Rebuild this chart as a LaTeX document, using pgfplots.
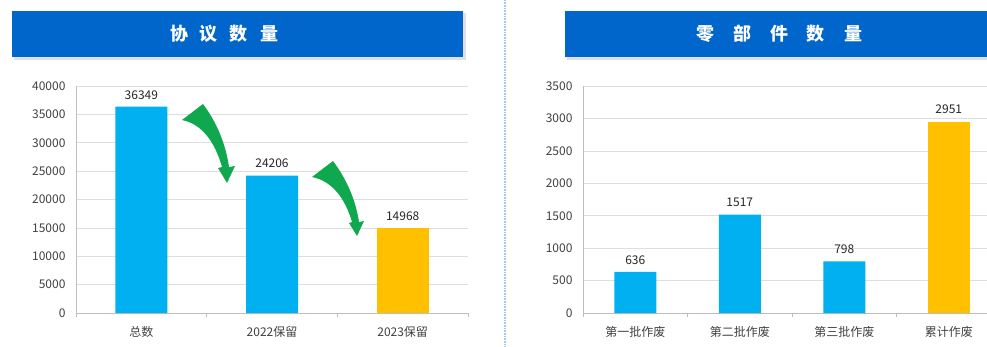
\documentclass[border=0pt]{standalone}
\usepackage{pgfplots}
\pgfplotsset{compat=1.18}
\usepackage{fontspec}
\setmainfont{Noto Sans CJK SC}
\definecolor{barblue}{RGB}{0,176,240}
\definecolor{barorange}{RGB}{255,192,0}
\definecolor{banner}{RGB}{0,102,204}
\definecolor{arrowgreen}{RGB}{16,168,78}
\definecolor{gridc}{RGB}{222,222,222}
\definecolor{axisc}{RGB}{190,190,190}
\definecolor{textc}{RGB}{64,64,64}
\definecolor{sepc}{RGB}{165,200,230}
\pgfplotsset{
  mybars/.style={
    scale only axis,
    anchor=south west,
    height=227pt,
    ybar,
    ymin=0,
    axis x line*=bottom,
    axis y line*=left,
    axis line style={axisc, line width=0.8pt},
    ymajorgrids,
    grid style={gridc, line width=0.6pt},
    major tick length=0pt,
    minor tick length=4pt,
    tick align=outside,
    minor tick style={axisc, line width=0.8pt},
    scaled y ticks=false,
    /pgf/number format/.cd, 1000 sep={}, assume math mode=true, /pgfplots/.cd,
    yticklabel style={font=\fontsize{12}{14}\selectfont, text=textc, xshift=-7pt},
    xticklabel style={font=\fontsize{12}{14}\selectfont, text=textc, yshift=-10pt},
    nodes near coords,
    every node near coord/.append style={font=\fontsize{12}{14}\selectfont, text=black!85, yshift=4pt},
    clip=false,
  }
}
\begin{document}
\begin{tikzpicture}
\useasboundingbox (0pt,0pt) rectangle (987pt,-346pt);
\clip (0pt,0pt) rectangle (987pt,-346pt);
% banners
\begin{scope}[x=1pt,y=-1pt]
\fill[black,opacity=0.12] (14,13) rectangle (466,60);
\fill[banner] (12,11) rectangle (463,57);
\node[text=white, font=\bfseries\fontsize{18}{20}\selectfont] at (224,34) {协\hspace{12pt}议\hspace{12pt}数\hspace{12pt}量};
\fill[black,opacity=0.12] (567,13) rectangle (1000,60);
\fill[banner] (565,11) rectangle (998,57);
\node[text=white, font=\bfseries\fontsize{18}{20}\selectfont] at (779,34) {零\hspace{19pt}部\hspace{19pt}件\hspace{19pt}数\hspace{19pt}量};
\draw[sepc, line width=1.6pt, dash pattern=on 0.8pt off 0.8pt] (505,0) -- (505,346);
\end{scope}

% left chart
\begin{axis}[mybars,
  at={(76pt,-313pt)},
  width=392pt,
  bar width=52pt,
  xmin=-0.5, xmax=2.5,
  ymax=40000,
  ytick={0,5000,...,40000},
  xtick={0,1,2},
  xticklabels={总数,2022保留,2023保留},
  minor xtick={-0.5,0.5,1.5,2.5},
]
\addplot[fill=barblue, draw=none, bar shift=0pt] coordinates {(0,36349) (1,24206)};
\addplot[fill=barorange, draw=none, bar shift=0pt] coordinates {(2,14968)};
\end{axis}

% right chart
\begin{axis}[mybars,
  at={(583pt,-313pt)},
  width=418pt,
  bar width=42pt,
  xmin=-0.5, xmax=3.5,
  ymax=3500,
  ytick={0,500,...,3500},
  xtick={0,1,2,3},
  xticklabels={第一批作废,第二批作废,第三批作废,累计作废},
  minor xtick={-0.5,0.5,1.5,2.5,3.5},
]
\addplot[fill=barblue, draw=none, bar shift=0pt] coordinates {(0,636) (1,1517) (2,798)};
\addplot[fill=barorange, draw=none, bar shift=0pt] coordinates {(3,2951)};
\end{axis}

% green arrows
\begin{scope}[x=1pt,y=-1pt]
\fill[arrowgreen] (182,120) -- (203,104)
  .. controls (218,124) and (226,146) .. (229,167)
  -- (235,166) -- (227,183) -- (218,168) -- (222,167)
  .. controls (215,142) and (202,124) .. (182,120) -- cycle;
\fill[arrowgreen] (312,177) -- (333,161)
  .. controls (348,181) and (356,202) .. (359,222)
  -- (364,221) -- (357,236) -- (349,223) -- (352,222)
  .. controls (345,198) and (332,181) .. (312,177) -- cycle;
\end{scope}
\end{tikzpicture}
\end{document}
